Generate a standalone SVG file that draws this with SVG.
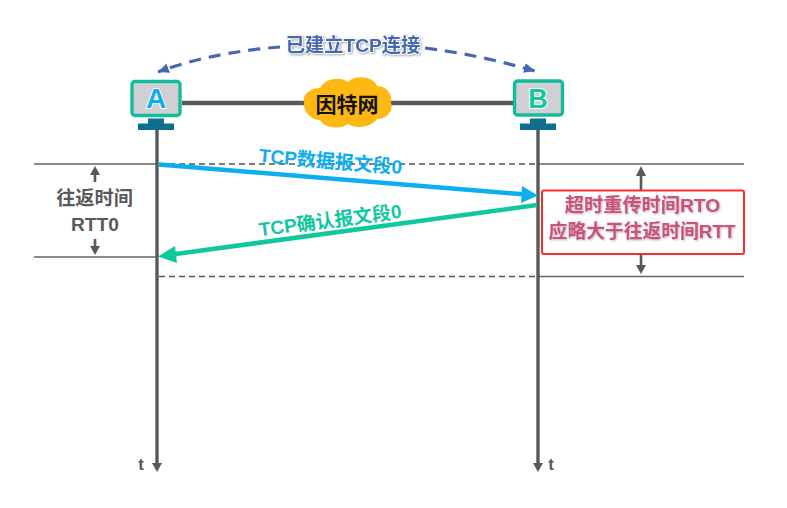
<svg xmlns="http://www.w3.org/2000/svg" width="787" height="508" viewBox="0 0 787 508">
<defs>
<style>
text{font-family:"Liberation Sans","Noto Sans CJK SC",sans-serif;font-weight:700;text-anchor:middle}
.g{fill:#595959}
.thin{stroke:#666;stroke-width:1.5;fill:none}
.dash{stroke:#555;stroke-width:1.4;stroke-dasharray:6 4;fill:none}
.axis{stroke:#595959;stroke-width:3.400;fill:none}
.dim{stroke:#595959;stroke-width:2.600;fill:none}
.conn{stroke:#4768b0;stroke-width:3.200;stroke-dasharray:12 8;fill:none}
.screen{fill:#d0d0d4;stroke:#14bb9c;stroke-width:3.400}
.stand{fill:#0e6f8e}
.halo{paint-order:stroke;stroke:#fff;stroke-width:2px;stroke-linejoin:round}
</style>
<marker id="aBlue" markerUnits="userSpaceOnUse" markerWidth="14" markerHeight="12" refX="11" refY="5" orient="auto"><path d="M0 0L11 5L0 10Z" fill="#4768b0"/></marker>
</defs>
<rect width="787" height="508" fill="#fff"/>
<g id="connectors">
<path class="thin" d="M34 164H157"/>
<path class="thin" d="M34 257H157"/>
<path class="dash" d="M159 164H538"/>
<path class="dash" d="M159 276.500H538"/>
<path class="thin" d="M538 164H744"/>
<path class="thin" d="M538 276.500H744"/>
<path d="M157 124V463" class="axis"/>
<path d="M152 463H162L157 472Z" class="g"/>
<path d="M538 124V463" class="axis"/>
<path d="M533 463H543L538 472Z" class="g"/>
<path d="M182 103H513" stroke="#595959" stroke-width="4.500" fill="none"/>
<path class="conn" d="M280 47C240 50 195 58 158 72" marker-end="url(#aBlue)"/>
<path class="conn" d="M425 48C465 53 500 61 535 71" marker-end="url(#aBlue)"/>
<path d="M159 164.500L526 194.500" stroke="#0daef0" stroke-width="4.500" fill="none"/>
<path d="M522 186L538 195.500L521 203Z" fill="#0daef0"/>
<path d="M537 205L172 254.500" stroke="#10c89f" stroke-width="4.500" fill="none"/>
<path d="M175 246L158 256.500L177 263Z" fill="#10c89f"/>
<path class="dim" d="M95 172V182"/>
<path d="M90 175L95 166L100 175Z" class="g"/>
<path class="dim" d="M95 239V248"/>
<path d="M90 246L95 255L100 246Z" class="g"/>
<path class="dim" d="M641 172V190"/>
<path d="M636 176L641 166L646 176Z" class="g"/>
<path class="dim" d="M641 254V268"/>
<path d="M636 265L641 274L646 265Z" class="g"/>
</g>
<g id="node-a">
<rect class="screen" x="132" y="81.500" width="48" height="34" rx="3"/>
<path class="stand" d="M148 118.500H164V123.500H174V130H138V123.500H148Z"/>
<text x="156" y="108" font-size="28" fill="#0daef0" class="halo">A</text>
</g>
<g id="node-b">
<rect class="screen" x="514.500" y="81" width="48" height="34" rx="3"/>
<path class="stand" d="M530 118.500H546V123.500H556V130H520V123.500H530Z"/>
<text x="538" y="107.500" font-size="27" fill="#10c89f" class="halo">B</text>
</g>
<g id="node-internet">
<path d="M304 103C302 94 311 88 320 88C325 78 341 76 348 82C356 74 374 77 377 86C387 86 393 95 391 103C394 111 386 119 377 119C371 128 355 129 348 124C340 130 324 128 320 120C311 120 303 111 304 103Z" fill="#fdb813"/>
<text x="347" y="112" font-size="21" fill="#111">因特网</text>
</g>
<g id="label-connection">
<text x="353" y="52" font-size="19.200" fill="#4768b0" class="halo" style="filter:drop-shadow(1px 1px 1px #a9a9a9)">已建立TCP连接</text>
</g>
<g id="label-data">
<text x="0" y="0" font-size="19" fill="#0daef0" transform="translate(330 168) rotate(4.700)">TCP数据报文段0</text>
</g>
<g id="label-ack">
<text x="0" y="0" font-size="19" fill="#10c89f" transform="translate(331 227) rotate(-7.500)">TCP确认报文段0</text>
</g>
<g id="label-rtt">
<text x="94.500" y="205" font-size="19.200" fill="#595959">往返时间</text>
<text x="95" y="231" font-size="19.200" fill="#595959">RTT0</text>
</g>
<g id="node-rto">
<rect x="542" y="190.500" width="202" height="63.500" rx="2" fill="#fff" stroke="#ff2a2a" stroke-width="2"/>
<text x="642.500" y="212" font-size="19.200" fill="#cf4f7f" style="filter:drop-shadow(1px 1px 1px #b8b8b8)">超时重传时间RTO</text>
<text x="642" y="238" font-size="18.800" fill="#cf4f7f" style="filter:drop-shadow(1px 1px 1px #b8b8b8)">应略大于往返时间RTT</text>
</g>
<g id="label-t-a"><text x="141" y="470" font-size="17" fill="#595959">t</text></g>
<g id="label-t-b"><text x="551" y="470" font-size="17" fill="#595959">t</text></g>
</svg>
